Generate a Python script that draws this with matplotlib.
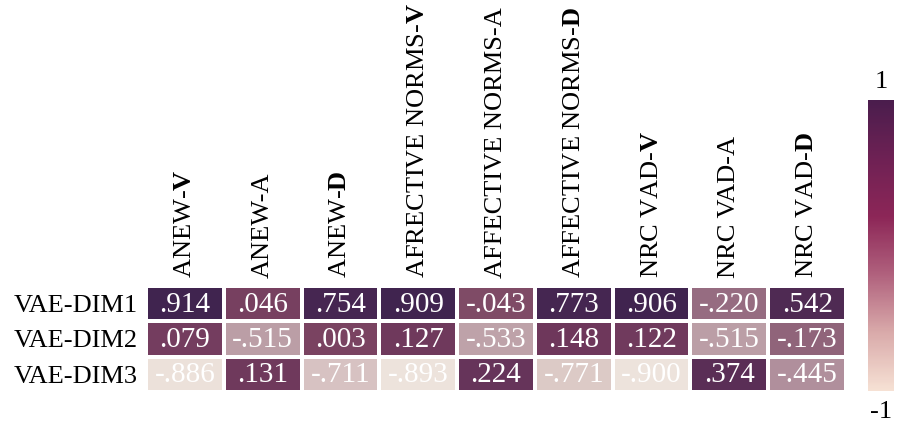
import matplotlib
matplotlib.use('Agg')
import matplotlib.pyplot as plt
import numpy as np
from matplotlib.colors import LinearSegmentedColormap, Normalize
from matplotlib.cm import ScalarMappable

# 폰트 설정 (Times 계열)
plt.rcParams['font.family'] = 'Liberation Serif'
plt.rcParams['mathtext.fontset'] = 'custom'
plt.rcParams['mathtext.rm'] = 'Liberation Serif'
plt.rcParams['mathtext.bf'] = 'Liberation Serif:bold'

# 데이터
row_labels = ['VAE-DIM1', 'VAE-DIM2', 'VAE-DIM3']
col_labels = ['ANEW-$\\mathbf{V}$', 'ANEW-A', 'ANEW-$\\mathbf{D}$',
              'AFRECTIVE NORMS-$\\mathbf{V}$', 'AFFECTIVE NORMS-A',
              'AFFECTIVE NORMS-$\\mathbf{D}$',
              'NRC VAD-$\\mathbf{V}$', 'NRC VAD-A', 'NRC VAD-$\\mathbf{D}$']
dim1 = [0.914, 0.046, 0.754, 0.909, -0.043, 0.773, 0.906, -0.220, 0.542]
dim2 = [0.079, -0.515, 0.003, 0.127, -0.533, 0.148, 0.122, -0.515, -0.173]
dim3 = [-0.886, 0.131, -0.711, -0.893, 0.224, -0.771, -0.900, 0.374, -0.445]
values = np.array([dim1, dim2, dim3])

# 셀 색상 (그림에서 읽은 색)
cell_anchors = [(-1.0, '#f1e8e1'), (-0.9, '#ede3dc'), (-0.77, '#dcc9c6'),
                (-0.71, '#d6c1c1'), (-0.52, '#bc9fa7'), (-0.445, '#b08f9c'),
                (-0.2, '#93687e'), (-0.04, '#7f4a66'), (0.0, '#7a4361'),
                (0.1, '#733c5e'), (0.15, '#6d375b'), (0.22, '#66345a'),
                (0.37, '#5a2e56'), (0.54, '#4f2a53'), (0.76, '#462651'),
                (0.91, '#40244f'), (1.0, '#3d234d')]
cell_cmap = LinearSegmentedColormap.from_list(
    'cells', [((v + 1) / 2, c) for v, c in cell_anchors])

# 컬러바 색상
bar_cmap = LinearSegmentedColormap.from_list(
    'bar', ['#f6e1d4', '#d9aaaa', '#b0617d', '#8c2657', '#6e2154', '#4a1d4d'])

norm = Normalize(-1, 1)

fig = plt.figure(figsize=(9.22, 4.30), dpi=100)
ax = fig.add_axes([0.1584, 0.0884, 0.7592, 0.2465])

ax.pcolormesh(values, cmap=cell_cmap, norm=norm, edgecolors='white', linewidth=1.6)
ax.set_xlim(0, len(col_labels))
ax.set_ylim(len(row_labels), 0)

for i in range(values.shape[0]):
    for j in range(values.shape[1]):
        txt = ('%.3f' % values[i, j]).replace('0.', '.')
        ax.text(j + 0.5, i + 0.53, txt, ha='center', va='center',
                color='white', fontsize=21)

ax.set_xticks(np.arange(len(col_labels)) + 0.5)
ax.set_xticklabels(col_labels, rotation=90, fontsize=19)
ax.xaxis.tick_top()
ax.set_yticks(np.arange(len(row_labels)) + 0.5)
ax.set_yticklabels(row_labels, fontsize=19)
ax.tick_params(length=0, pad=6)
for s in ax.spines.values():
    s.set_visible(False)

# 컬러바
cax = fig.add_axes([0.9414, 0.0907, 0.0282, 0.6767])
sm = ScalarMappable(norm=norm, cmap=bar_cmap)
cb = fig.colorbar(sm, cax=cax)
cb.outline.set_visible(False)
cb.set_ticks([])
cax.text(0.5, 1.025, '1', transform=cax.transAxes, ha='center', va='bottom', fontsize=19)
cax.text(0.5, -0.035, '-1', transform=cax.transAxes, ha='center', va='top', fontsize=19)

fig.savefig('out.png', dpi=100)
